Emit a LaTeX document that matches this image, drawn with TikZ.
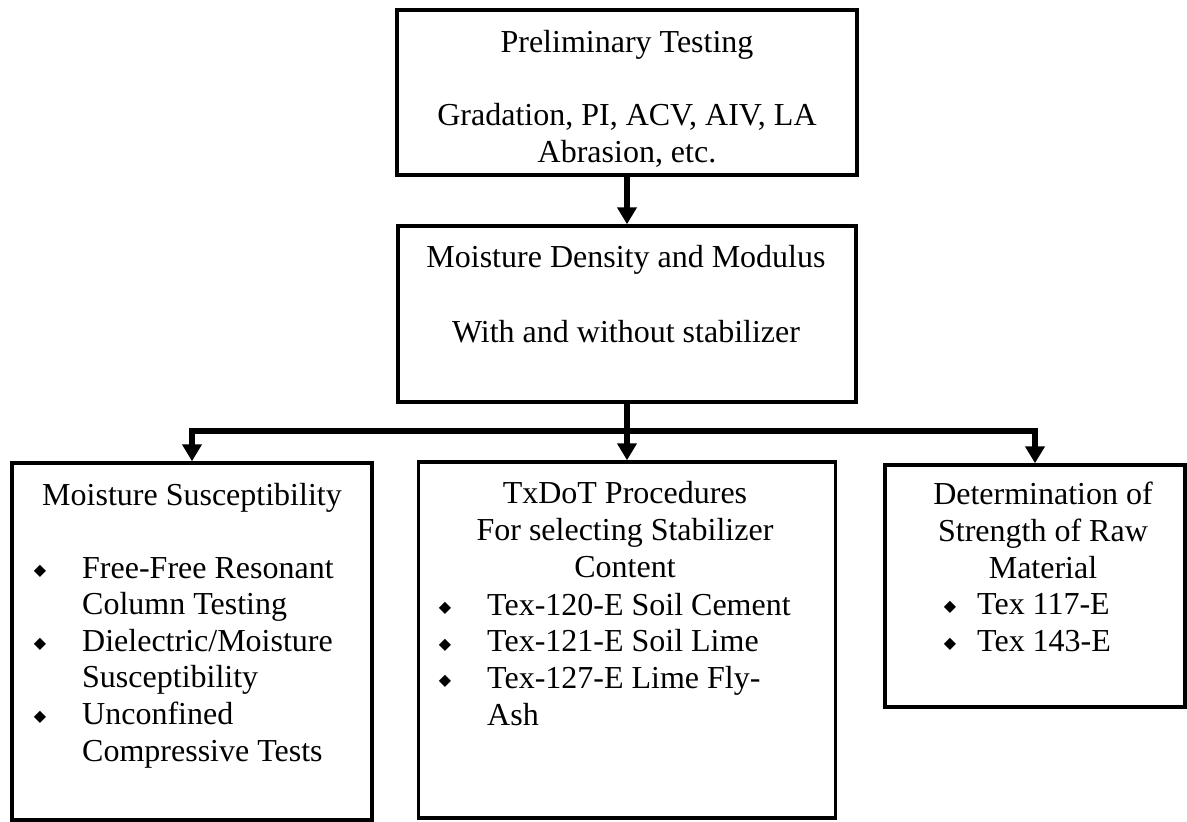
\documentclass[tikz,border=0pt]{standalone}
\usepackage{fontspec}
\setmainfont{Liberation Serif}
\newfontfamily\dejavu{DejaVu Sans}
\usetikzlibrary{arrows.meta}
\newcommand{\bul}[1]{\llap{\raisebox{2.5pt}{\dejavu\fontsize{16}{16}\selectfont ◆}\hspace{#1}}}
\begin{document}
\begin{tikzpicture}[x=1pt, y=-1pt,
  box/.style={draw, line width=3.5pt, inner sep=0pt},
  txt/.style={font=\fontsize{32}{36.6}\selectfont, inner sep=0pt},
  conn/.style={line width=5.5pt},
  arr/.style={conn, -{Triangle[length=17pt,width=19pt]}}]
\useasboundingbox (0,0) rectangle (1187,822);
% boxes
\node[box, minimum width=460pt, minimum height=165pt] (b1) at (627,92.5) {};
\node[box, minimum width=458pt, minimum height=176pt] (b2) at (627,314) {};
\node[box, minimum width=360pt, minimum height=357pt] (b3) at (192,641.5) {};
\node[box, minimum width=417pt, minimum height=356pt] (b4) at (627,640) {};
\node[box, minimum width=300pt, minimum height=242pt] (b5) at (1035,586) {};
% texts (anchor base = baseline of the last line)
\node[txt, align=center, anchor=base] (t1) at (627,162) {Preliminary Testing\\[36.4pt]Gradation, PI, ACV, AIV, LA\\Abrasion, etc.};
\node[txt, align=center, anchor=base] (t2) at (626,342) {Moisture Density and Modulus\\[38.4pt]With and without stabilizer};
\node[txt, anchor=base] (h3) at (192,505) {Moisture Susceptibility};
\node[txt, align=left, anchor=base west] (l3) at (82,761) {\bul{36pt}Free-Free Resonant\\Column Testing\\\bul{36pt}Dielectric/Moisture\\Susceptibility\\\bul{36pt}Unconfined\\Compressive Tests};
\node[txt, align=center, anchor=base] (h4) at (625,577) {TxDoT Procedures\\For selecting Stabilizer\\Content};
\node[txt, align=left, anchor=base west] (l4) at (487,725) {\bul{36pt}Tex-120-E Soil Cement\\\bul{36pt}Tex-121-E Soil Lime\\\bul{36pt}Tex-127-E Lime Fly-\\Ash};
\node[txt, align=center, anchor=base] (h5) at (1043,578) {Determination of\\Strength of Raw\\Material};
\node[txt, align=left, anchor=base west] (l5) at (977,651) {\bul{21pt}Tex 117-E\\\bul{21pt}Tex 143-E};
% connectors
\coordinate (j) at (627,431);
\draw[arr] (b1.south) -- (b2.north);
\draw[conn] (b2.south) -- (j);
\draw[arr] (j) -- (b4.north);
\draw[arr] (j) -| (b3.north);
\draw[arr] (j) -| (b5.north);
\end{tikzpicture}
\end{document}
